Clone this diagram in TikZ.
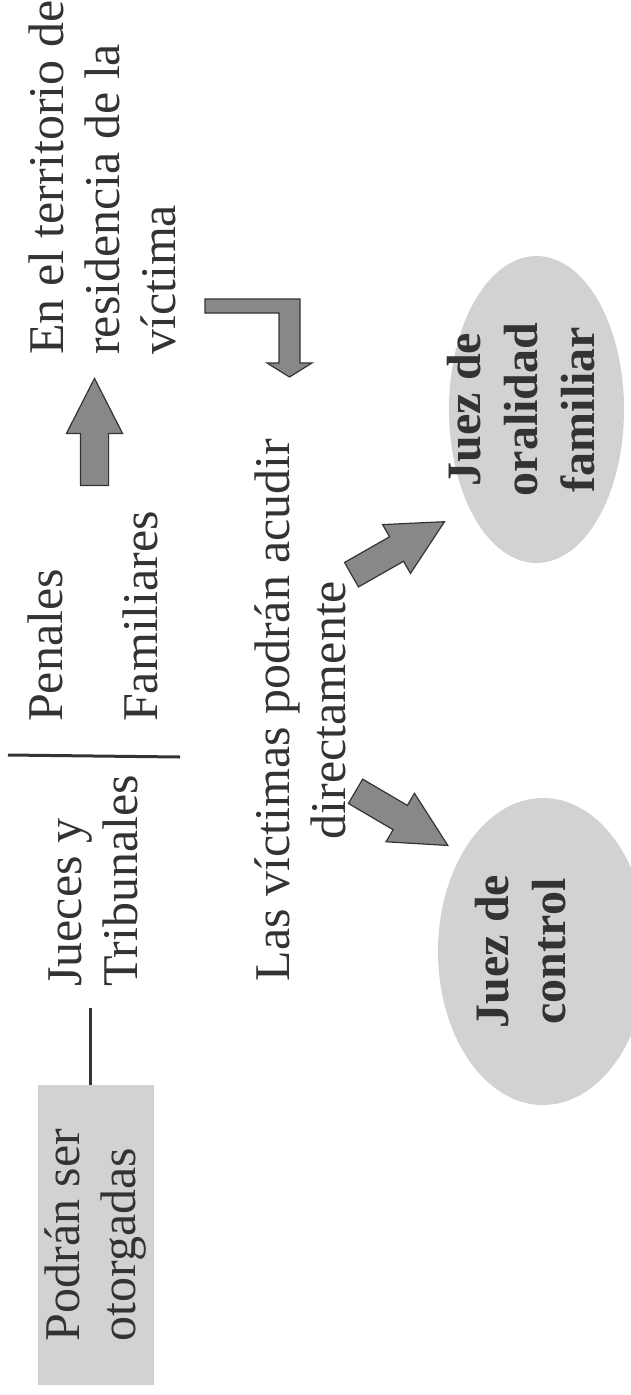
\documentclass[tikz,border=0pt]{standalone}
\usepackage{fontspec}
\setmainfont{Liberation Serif}
\usetikzlibrary{shapes.geometric,shapes.arrows,calc}
\definecolor{ink}{HTML}{333333}
\definecolor{shade}{HTML}{D1D2D4}
\definecolor{steel}{HTML}{87888A}
\tikzset{every node/.style={inner sep=0pt,text=ink},
  vtext/.style={rotate=90,align=left,font=\fontsize{50}{56}\selectfont},
  greybox/.style={vtext,fill=shade,minimum width=300pt,minimum height=116pt},
  oval/.style={ellipse,fill=shade},
  judge/.style={rotate=90,align=center,font=\fontsize{48}{57}\selectfont\bfseries},
  blockarr/.style={single arrow,draw=ink,fill=steel,line width=1.2pt,inner sep=13.5pt,single arrow head extend=14pt,single arrow tip angle=54,single arrow head indent=0pt,minimum height=107pt,anchor=tail},
  link/.style={draw=ink,line width=3pt}}

\begin{document}
\begin{tikzpicture}[x=1pt,y=-1pt]
\useasboundingbox (0,0) rectangle (631,1395);
% left column
\node[greybox] (grant) at (96,1235) {Podrán ser\\otorgadas};
\node[vtext,anchor=base west] (courts) at (137,987) {Jueces y\\Tribunales};
\coordinate (jt) at (90,1008);
\draw[link] (jt) -- (jt |- grant.east);
\draw[link] (8,755) -- (180,757);
\node[vtext,anchor=base west] (penal) at (62,722) {Penales};
\node[vtext,anchor=base west] (family) at (157,722) {Familiares};
\node[blockarr,rotate=90] (up) at (94.5,486) {};
\node[vtext,anchor=base west] (place) at (175,355) {En el territorio de\\residencia de la\\víctima};
% bent arrow
\draw[ink,fill=steel,line width=1.2pt] (205,299) -- (300,299) -- (300,363) -- (312,363) -- (289.5,377) -- (267,363) -- (279,363) -- (279,313) -- (205,313) -- cycle;
\node[vtext,align=center,anchor=base] (victims) at (345,710) {Las víctimas podrán acudir\\directamente};
% judges
\node[oval,minimum width=175pt,minimum height=307pt] (oral) at (536.5,409.5) {};
\node[judge] at ([xshift=-15pt]oral.center) {Juez de\\oralidad\\familiar};
\node[oval,minimum width=210pt,minimum height=307pt] (ctrl) at (543,951.5) {};
\node[judge] at ([xshift=-22pt]ctrl.center) {Juez de\\control};
\node[blockarr,rotate=29.7] (toOral) at (351,575) {};
\node[blockarr,rotate=-30.4] (toCtrl) at (355,791) {};
\end{tikzpicture}
\end{document}
